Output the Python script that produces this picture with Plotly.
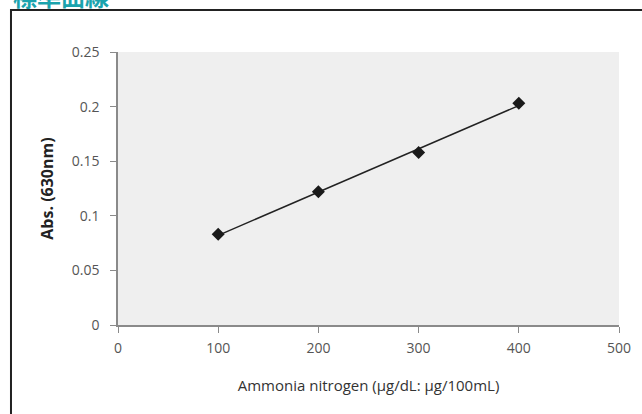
import numpy as np
import plotly.graph_objects as go

# Standard curve data
conc = [100, 200, 300, 400]            # ammonia nitrogen, µg/dL
absorb = [0.083, 0.122, 0.158, 0.203]  # Abs. at 630 nm
x_ticks = [0, 100, 200, 300, 400, 500]
y_ticks = [0, 0.05, 0.1, 0.15, 0.2, 0.25]
y_tick_text = ['0', '0.05', '0.1', '0.15', '0.2', '0.25']

# linear trendline through the points
slope, icpt = np.polyfit(conc, absorb, 1)
fit_x = [conc[0], conc[-1]]
fit_y = [slope * v + icpt for v in fit_x]

fig = go.Figure()

fig.add_trace(go.Scatter(
    x=fit_x, y=fit_y, mode='lines',
    line=dict(color='#222222', width=1.5),
    showlegend=False, hoverinfo='skip'
))

fig.add_trace(go.Scatter(
    x=conc, y=absorb, mode='markers',
    marker=dict(symbol='diamond', size=10, color='#1a1a1a'),
    showlegend=False
))

axis_style = dict(
    showgrid=False, zeroline=False,
    showline=True, linecolor='#8a8a8a', linewidth=1.5,
    ticks='outside', ticklen=6, tickcolor='#8a8a8a',
    tickfont=dict(size=14, color='#555555'),
)

fig.update_layout(
    width=642, height=414,
    margin=dict(l=118, r=23, t=52, b=89),
    paper_bgcolor='white',
    plot_bgcolor='#efefef',
    font=dict(family='Open Sans', size=14, color='#555555'),
    xaxis=dict(
        range=[0, 500], tickvals=x_ticks, ticklabelstandoff=3,
        title=dict(text='Ammonia nitrogen (μg/dL: μg/100mL)',
                   font=dict(size=15, color='#333333'), standoff=25),
        **axis_style,
    ),
    yaxis=dict(
        range=[0, 0.25], tickvals=y_ticks, ticktext=y_tick_text,
        ticklabelstandoff=8,
        title=dict(text='<b>Abs. (630nm)</b>',
                   font=dict(size=16, color='#222222'), standoff=14),
        **axis_style,
    ),
)

# outer frame of the figure box
fig.add_shape(type='rect', xref='paper', yref='paper',
              x0=-0.2136, x1=1.2, y0=-0.5, y1=1.1538,
              line=dict(color='#222222', width=2), layer='below')

# heading cut off at the top edge
fig.add_annotation(text='<b>標準曲線</b>', xref='paper', yref='paper',
                   x=-0.214, y=1.135, xanchor='left', yanchor='bottom',
                   showarrow=False,
                   font=dict(family='Noto Sans CJK JP', size=24, color='#1aa3ad'))

# drop the default page margin so the figure sits at the window corner
fig.write_html("out.html", config={'displayModeBar': False},
               post_script="document.body.style.margin='0';")
